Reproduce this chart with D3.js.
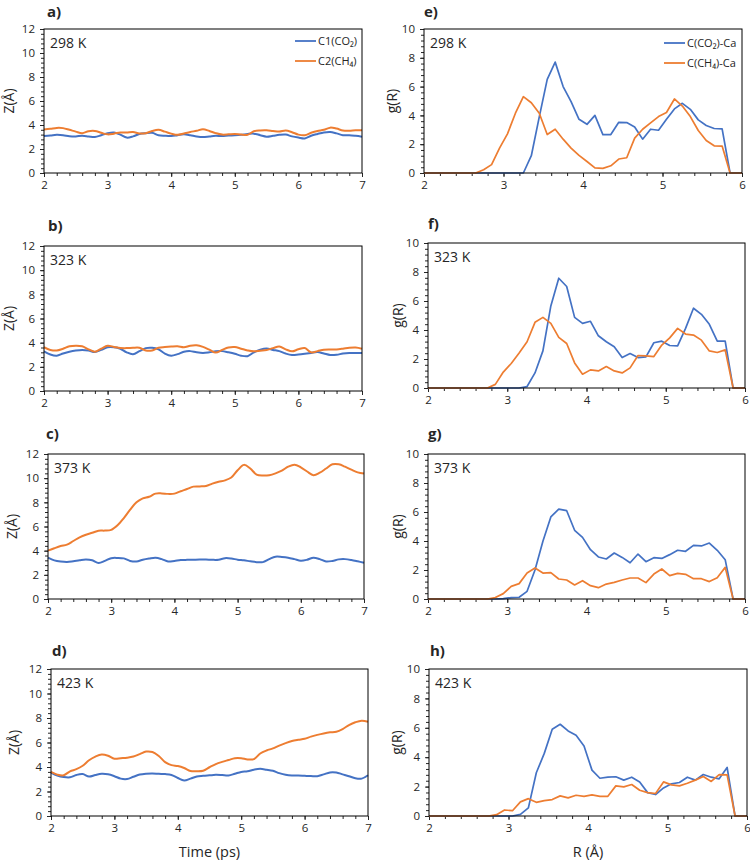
<!DOCTYPE html>
<html>
<head>
<meta charset="utf-8">
<script src="https://cdn.jsdelivr.net/npm/d3@7"></script>
<style>
  html, body { margin: 0; padding: 0; background: #fff; }
  svg text { font-family: "Open Sans", "Noto Sans", sans-serif; fill: #262626; }
</style>
</head>
<body>
<svg id="chart" width="750" height="860"></svg>
<script>
// ---------------- DATA ----------------
const timePs = [2.0,2.1,2.2,2.3,2.4,2.5,2.6,2.7,2.8,2.9,3.0,3.1,3.2,3.3,3.4,3.5,3.6,3.7,3.8,3.9,4.0,4.1,4.2,4.3,4.4,4.5,4.6,4.7,4.8,4.9,5.0,5.1,5.2,5.3,5.4,5.5,5.6,5.7,5.8,5.9,6.0,6.1,6.2,6.3,6.4,6.5,6.6,6.7,6.8,6.9,7.0];

const zCO2_298 = [3.08,3.12,3.18,3.15,3.07,3.05,3.1,3.05,3.0,3.15,3.32,3.38,3.2,2.95,3.05,3.25,3.32,3.35,3.15,3.1,3.08,3.15,3.22,3.15,3.05,3.0,3.05,3.1,3.08,3.12,3.14,3.18,3.25,3.28,3.15,3.03,3.1,3.18,3.2,3.05,2.95,2.88,3.1,3.25,3.38,3.42,3.3,3.15,3.15,3.1,3.03];
const zCH4_298 = [3.62,3.68,3.76,3.74,3.6,3.45,3.32,3.48,3.5,3.35,3.22,3.28,3.38,3.38,3.42,3.3,3.32,3.5,3.6,3.45,3.28,3.18,3.3,3.42,3.52,3.64,3.5,3.32,3.2,3.22,3.26,3.2,3.18,3.48,3.55,3.56,3.5,3.45,3.54,3.4,3.2,3.15,3.35,3.5,3.6,3.78,3.7,3.54,3.52,3.56,3.56];

const zCO2_323 = [3.28,3.02,2.92,3.1,3.25,3.35,3.4,3.35,3.22,3.4,3.62,3.62,3.5,3.2,3.05,3.3,3.55,3.58,3.45,3.1,2.92,3.05,3.25,3.3,3.2,3.15,3.2,3.28,3.3,3.2,3.08,2.92,2.88,3.2,3.42,3.52,3.4,3.3,3.1,2.98,3.02,3.08,3.15,3.22,3.1,2.98,3.0,3.1,3.15,3.15,3.15];
const zCH4_323 = [3.62,3.4,3.35,3.5,3.7,3.74,3.7,3.45,3.25,3.5,3.74,3.65,3.56,3.55,3.58,3.58,3.35,3.36,3.58,3.64,3.68,3.7,3.62,3.75,3.78,3.65,3.42,3.18,3.4,3.6,3.64,3.5,3.36,3.28,3.34,3.4,3.55,3.68,3.45,3.28,3.45,3.55,3.2,3.3,3.42,3.44,3.44,3.5,3.58,3.6,3.5];

const zCO2_373 = [3.42,3.2,3.1,3.06,3.12,3.2,3.26,3.2,2.98,3.15,3.38,3.4,3.36,3.15,3.1,3.25,3.35,3.42,3.3,3.1,3.15,3.22,3.24,3.25,3.26,3.26,3.24,3.25,3.38,3.35,3.25,3.2,3.12,3.05,3.05,3.3,3.5,3.48,3.42,3.3,3.17,3.25,3.42,3.3,3.1,3.15,3.28,3.3,3.23,3.12,3.0];
const zCH4_373 = [4.0,4.2,4.38,4.5,4.8,5.1,5.32,5.48,5.65,5.66,5.72,6.1,6.7,7.4,8.0,8.33,8.46,8.72,8.74,8.7,8.72,8.92,9.1,9.3,9.32,9.35,9.55,9.7,9.82,10.05,10.65,11.1,10.8,10.3,10.22,10.25,10.4,10.62,10.95,11.12,10.9,10.55,10.25,10.45,10.8,11.15,11.15,10.95,10.7,10.48,10.38];

const zCO2_423 = [3.55,3.3,3.18,3.16,3.35,3.42,3.22,3.35,3.44,3.4,3.25,3.05,3.02,3.2,3.38,3.45,3.47,3.44,3.42,3.35,3.1,2.9,3.05,3.23,3.28,3.32,3.36,3.34,3.31,3.45,3.6,3.65,3.78,3.85,3.78,3.69,3.5,3.36,3.3,3.3,3.28,3.26,3.25,3.4,3.56,3.55,3.4,3.25,3.08,3.05,3.33];
const zCH4_423 = [3.6,3.38,3.32,3.65,3.82,4.1,4.55,4.85,5.02,4.92,4.68,4.72,4.76,4.85,5.05,5.26,5.22,4.9,4.4,4.15,4.08,3.92,3.68,3.66,3.7,3.98,4.24,4.42,4.57,4.72,4.72,4.62,4.64,5.1,5.35,5.52,5.75,5.95,6.12,6.22,6.3,6.48,6.62,6.74,6.83,6.88,7.1,7.42,7.65,7.78,7.7];

const rA = [2.0,2.05,2.15,2.25,2.35,2.45,2.55,2.65,2.75,2.85,2.95,3.05,3.15,3.25,3.35,3.45,3.55,3.65,3.75,3.85,3.95,4.05,4.15,4.25,4.35,4.45,4.55,4.65,4.75,4.85,4.95,5.05,5.15,5.25,5.35,5.45,5.55,5.65,5.75,5.85,5.95,6.0];

const gCO2_298 = [0,0,0,0,0,0,0,0,0,0,0,0,0,0,1.2,3.9,6.5,7.7,6.0,4.95,3.73,3.38,4.0,2.67,2.67,3.52,3.5,3.2,2.35,3.04,2.97,3.73,4.45,4.84,4.42,3.69,3.3,3.09,3.06,0,0,0];
const gCH4_298 = [0,0,0,0,0,0,0,0,0.23,0.58,1.73,2.72,4.15,5.3,4.88,4.15,2.67,3.04,2.35,1.73,1.22,0.8,0.35,0.32,0.5,0.97,1.06,2.42,3.04,3.48,3.92,4.2,5.14,4.65,3.92,2.95,2.26,1.89,1.87,0,0,0];

const gCO2_323 = [0,0,0,0,0,0,0,0,0,0,0,0,0,0.1,1.04,2.56,5.66,7.57,7.0,4.87,4.46,4.6,3.6,3.19,2.84,2.1,2.38,2.1,2.15,3.12,3.23,2.93,2.91,4.11,5.5,5.08,4.39,3.23,3.23,0,0,0];
const gCH4_323 = [0,0,0,0,0,0,0,0,0,0.25,1.1,1.69,2.42,3.19,4.53,4.87,4.46,3.49,3.07,1.73,0.95,1.25,1.18,1.48,1.18,1.04,1.39,2.24,2.22,2.17,2.96,3.46,4.11,3.72,3.65,3.3,2.56,2.45,2.63,0,0,0];

const gCO2_373 = [0,0,0,0,0,0,0,0,0,0,0.02,0.1,0.12,0.53,2.0,3.98,5.66,6.2,6.09,4.74,4.25,3.4,2.9,2.76,3.17,2.87,2.5,3.1,2.57,2.85,2.8,3.06,3.36,3.29,3.7,3.66,3.86,3.36,2.71,0,0,0];
const gCH4_373 = [0,0,0,0,0,0,0,0,0,0.1,0.37,0.87,1.06,1.79,2.14,1.79,1.82,1.38,1.31,0.97,1.26,0.92,0.78,1.03,1.15,1.31,1.45,1.45,1.13,1.72,2.07,1.61,1.77,1.7,1.4,1.4,1.2,1.47,2.18,0,0,0];

const gCO2_423 = [0,0,0,0,0,0,0,0,0,0,0,0,0.11,0.55,2.94,4.26,5.9,6.24,5.79,5.49,4.76,3.12,2.57,2.64,2.67,2.44,2.64,2.32,1.59,1.46,1.91,2.19,2.28,2.64,2.44,2.82,2.64,2.53,3.3,0,0,0];
const gCH4_423 = [0,0,0,0,0,0,0,0,0,0.09,0.41,0.36,0.96,1.18,0.93,1.05,1.12,1.37,1.23,1.41,1.34,1.44,1.34,1.34,2.05,1.98,2.14,1.75,1.59,1.53,2.32,2.12,2.05,2.23,2.44,2.69,2.35,2.82,2.8,0,0,0];

const temps = ["298 K", "323 K", "373 K", "423 K"];
const leftLetters = ["a)", "b)", "c)", "d)"];
const rightLetters = ["e)", "f)", "g)", "h)"];
const zSeriesNames = ["C1(CO\u2082)", "C2(CH\u2084)"];
const gSeriesNames = ["C(CO\u2082)-Ca", "C(CH\u2084)-Ca"];
const timeTicks = [2, 3, 4, 5, 6, 7];
const rTicks = [2, 3, 4, 5, 6];
const zTicks = [0, 2, 4, 6, 8, 10, 12];
const gTicks = [0, 2, 4, 6, 8, 10];
const xTitleLeft = "Time (ps)";
const xTitleRight = "R (\u00C5)";
const yTitleLeft = "Z(\u00C5)";
const yTitleRight = "g(R)";

const zCO2 = [zCO2_298, zCO2_323, zCO2_373, zCO2_423];
const zCH4 = [zCH4_298, zCH4_323, zCH4_373, zCH4_423];
const gCO2 = [gCO2_298, gCO2_323, gCO2_373, gCO2_423];
const gCH4 = [gCH4_298, gCH4_323, gCH4_373, gCH4_423];

// ---------------- LAYOUT ----------------
const BLUE = "#4472C4", ORANGE = "#ED7D31";
const leftBoxes = [
  {x0: 44, x1: 362, y0: 29, y1: 173, lx: 47, ly: 17, yt: 9},
  {x0: 44, x1: 362, y0: 246, y1: 391, lx: 48, ly: 231, yt: 9},
  {x0: 48, x1: 364, y0: 454, y1: 599, lx: 46, ly: 439, yt: 12},
  {x0: 51, x1: 368, y0: 669, y1: 816, lx: 52, ly: 656, yt: 14}
];
const rightBoxes = [
  {x0: 424, x1: 742, y0: 29, y1: 173, lx: 424, ly: 17, yt: 392},
  {x0: 428, x1: 745, y0: 243, y1: 388, lx: 428, ly: 229, yt: 398},
  {x0: 428, x1: 745, y0: 454, y1: 599, lx: 428, ly: 439, yt: 398},
  {x0: 429, x1: 747, y0: 669, y1: 816, lx: 430, ly: 656, yt: 397}
];

const svg = d3.select("#chart");

function drawPanel(box, opts) {
  const g = svg.append("g");
  const x = d3.scaleLinear().domain(opts.xDomain).range([box.x0, box.x1]);
  const y = d3.scaleLinear().domain(opts.yDomain).range([box.y1, box.y0]);

  const minorX = d3.range(opts.xDomain[0], opts.xDomain[1] + 1e-9, 0.2);
  const minorY = d3.range(opts.yDomain[0], opts.yDomain[1] + 1e-9, 0.4);

  const ax = g.append("g").attr("transform", `translate(0,${box.y1})`)
    .call(d3.axisBottom(x).tickValues(minorX).tickSize(3).tickFormat(""));
  ax.select(".domain").remove();
  const ax2 = g.append("g").attr("transform", `translate(0,${box.y1})`)
    .call(d3.axisBottom(x).tickValues(opts.xTicks).tickSize(4).tickPadding(4).tickFormat(d3.format("d")));
  ax2.select(".domain").remove();
  ax2.selectAll("text").attr("font-size", 11.5).style("font-family", '"Open Sans", sans-serif').attr("fill", "#262626");

  const ay = g.append("g").attr("transform", `translate(${box.x0},0)`)
    .call(d3.axisLeft(y).tickValues(minorY).tickSize(3).tickFormat(""));
  ay.select(".domain").remove();
  const ay2 = g.append("g").attr("transform", `translate(${box.x0},0)`)
    .call(d3.axisLeft(y).tickValues(opts.yTicks).tickSize(4).tickPadding(5).tickFormat(d3.format("d")));
  ay2.select(".domain").remove();
  ay2.selectAll("text").attr("font-size", 11.5).style("font-family", '"Open Sans", sans-serif').attr("fill", "#262626");
  g.selectAll(".tick line").attr("stroke", "#262626");

  const line = d3.line()
    .x((d, i) => x(opts.xs[i]))
    .y(d => y(d))
    .curve(opts.curve);

  g.append("path").datum(opts.blue)
    .attr("d", line).attr("fill", "none").attr("stroke", BLUE)
    .attr("stroke-width", opts.sw).attr("stroke-linejoin", "round");
  g.append("path").datum(opts.orange)
    .attr("d", line).attr("fill", "none").attr("stroke", ORANGE)
    .attr("stroke-width", opts.sw).attr("stroke-linejoin", "round");

  g.append("rect").attr("x", box.x0).attr("y", box.y0)
    .attr("width", box.x1 - box.x0).attr("height", box.y1 - box.y0)
    .attr("fill", "none").attr("stroke", "#000").attr("stroke-width", 1);

  // panel letter
  g.append("text").attr("x", box.lx).attr("y", box.ly)
    .attr("font-size", 15).attr("font-weight", "bold").attr("fill", "#000")
    .text(opts.letter);
  // temperature label
  g.append("text").attr("x", box.x0 + 6).attr("y", box.y0 + 19)
    .attr("font-size", 14).attr("fill", "#000").text(opts.temp);
  // y title
  g.append("text")
    .attr("transform", `translate(${box.yt + 5},${(box.y0 + box.y1) / 2}) rotate(-90)`)
    .attr("text-anchor", "middle").attr("font-size", 14).text(opts.yTitle);
  if (opts.xTitle) {
    g.append("text").attr("x", (box.x0 + box.x1) / 2).attr("y", box.y1 + 41)
      .attr("text-anchor", "middle").attr("font-size", 14.5).text(opts.xTitle);
  }
  if (opts.legend) {
    const L = opts.legend;
    opts.legendNames.forEach((name, i) => {
      const ly = L.y + i * 20;
      g.append("line").attr("x1", L.x).attr("x2", L.x + 21)
        .attr("y1", ly).attr("y2", ly)
        .attr("stroke", i === 0 ? BLUE : ORANGE).attr("stroke-width", 1.8);
      g.append("text").attr("x", L.x + 23).attr("y", ly + 4)
        .attr("font-size", 11).text(name);
    });
  }
}

for (let k = 0; k < 4; k++) {
  drawPanel(leftBoxes[k], {
    xDomain: [2, 7], yDomain: [0, 12], xTicks: timeTicks, yTicks: zTicks,
    xs: timePs, blue: zCO2[k], orange: zCH4[k], curve: d3.curveCatmullRom.alpha(0.5), sw: 2,
    letter: leftLetters[k], temp: temps[k], yTitle: yTitleLeft,
    xTitle: k === 3 ? xTitleLeft : null,
    legend: k === 0 ? {x: 295, y: 41} : null, legendNames: zSeriesNames
  });
  drawPanel(rightBoxes[k], {
    xDomain: [2, 6], yDomain: [0, 10], xTicks: rTicks, yTicks: gTicks,
    xs: rA, blue: gCO2[k], orange: gCH4[k], curve: d3.curveLinear, sw: 1.7,
    letter: rightLetters[k], temp: temps[k], yTitle: yTitleRight,
    xTitle: k === 3 ? xTitleRight : null,
    legend: k === 0 ? {x: 664, y: 43} : null, legendNames: gSeriesNames
  });
}
</script>
</body>
</html>
